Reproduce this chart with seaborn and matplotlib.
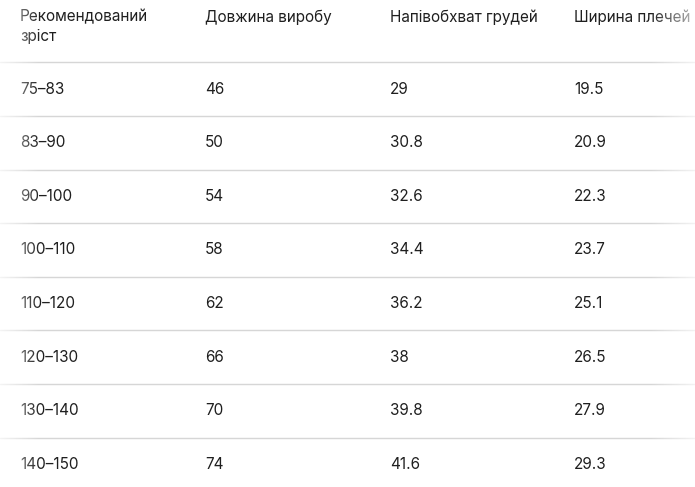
import numpy as np
import seaborn as sns
import matplotlib
matplotlib.use("Agg")
import matplotlib.pyplot as plt

headers = [["Рекомендований", "зріст"], ["Довжина виробу"], ["Напівобхват грудей"], ["Ширина плечей"]]
heights = ["75–83", "83–90", "90–100", "100–110", "110–120", "120–130", "130–140", "140–150"]
length = ["46", "50", "54", "58", "62", "66", "70", "74"]
chest = ["29", "30.8", "32.6", "34.4", "36.2", "38", "39.8", "41.6"]
shoulder = ["19.5", "20.9", "22.3", "23.7", "25.1", "26.5", "27.9", "29.3"]

sns.set_theme(style="white")
plt.rcParams["font.family"] = ["Inter", "DejaVu Sans"]

fig = plt.figure(figsize=(6.95, 4.87), dpi=100)
ax = fig.add_axes([0, 0, 1, 1])
ax.set_xlim(0, 695)
ax.set_ylim(487, 0)
ax.axis("off")

col_x = [20, 205, 390, 574]
txt = "#1f1f1f"
fs = 11

for x, h in zip(col_x, headers):
    for i, line in enumerate(h):
        ax.text(x, 17 + i * 20, line, fontsize=fs, color=txt, va="center", clip_on=True)

row_y = 89
step = 53.6
ax.axhline(62, color="#d6d6d6", lw=1)
for i, row in enumerate(zip(heights, length, chest, shoulder)):
    y = row_y + i * step
    for x, v in zip(col_x, row):
        ax.text(x, y, v, fontsize=fs, color=txt, va="center", clip_on=True)
    ax.axhline(y + 27, color="#d6d6d6", lw=1)

# fade on the left and right edges
grad = np.zeros((2, 256, 4))
grad[..., :3] = 1
grad[..., 3] = np.linspace(0.75, 0, 256)
ax.imshow(grad, extent=(0, 40, 487, 0), aspect="auto", zorder=5)
grad_r = grad[:, ::-1].copy()
grad_r[..., 3] = np.linspace(0, 0.7, 256)
ax.imshow(grad_r, extent=(650, 695, 487, 0), aspect="auto", zorder=5)
ax.set_xlim(0, 695)
ax.set_ylim(487, 0)

fig.savefig("out.png", dpi=100)
